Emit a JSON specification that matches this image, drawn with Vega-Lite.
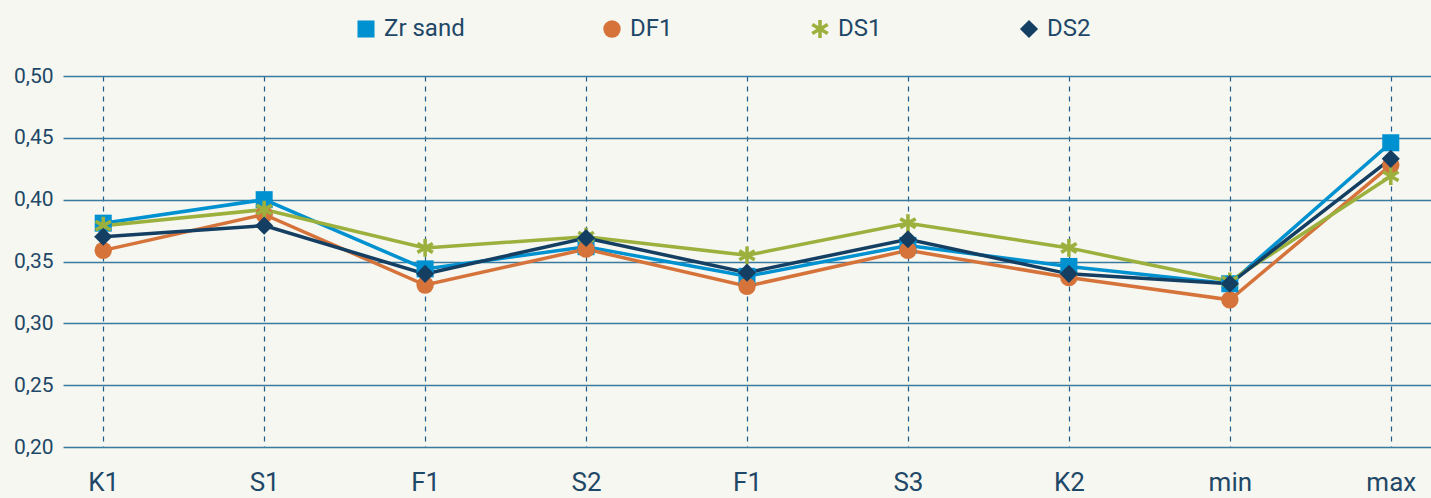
{
  "$schema": "https://vega.github.io/schema/vega-lite/v6.json",
  "width": 1368,
  "height": 371,
  "autosize": "none",
  "padding": {"left": 63, "top": 76, "right": 0, "bottom": 51},
  "background": "#f6f7f0",
  "config": {
    "view": {"stroke": null},
    "font": "Roboto",
    "legend": {
      "orient": "none",
      "legendX": 291,
      "legendY": -59,
      "direction": "horizontal",
      "columnPadding": 135,
      "labelFontSize": 24,
      "labelColor": "#1f4767",
      "labelFont": "Roboto",
      "symbolSize": 260,
      "labelOffset": 6,
      "symbolStrokeWidth": 0
    }
  },
  "data": {
    "values": [
      {"cat": "K1", "series": "Zr sand", "value": 0.381},
      {"cat": "K1", "series": "DF1", "value": 0.359},
      {"cat": "K1", "series": "DS1", "value": 0.379},
      {"cat": "K1", "series": "DS2", "value": 0.370},
      {"cat": "S1", "series": "Zr sand", "value": 0.400},
      {"cat": "S1", "series": "DF1", "value": 0.388},
      {"cat": "S1", "series": "DS1", "value": 0.392},
      {"cat": "S1", "series": "DS2", "value": 0.379},
      {"cat": "F1a", "series": "Zr sand", "value": 0.344},
      {"cat": "F1a", "series": "DF1", "value": 0.331},
      {"cat": "F1a", "series": "DS1", "value": 0.361},
      {"cat": "F1a", "series": "DS2", "value": 0.340},
      {"cat": "S2", "series": "Zr sand", "value": 0.362},
      {"cat": "S2", "series": "DF1", "value": 0.360},
      {"cat": "S2", "series": "DS1", "value": 0.370},
      {"cat": "S2", "series": "DS2", "value": 0.369},
      {"cat": "F1b", "series": "Zr sand", "value": 0.338},
      {"cat": "F1b", "series": "DF1", "value": 0.330},
      {"cat": "F1b", "series": "DS1", "value": 0.355},
      {"cat": "F1b", "series": "DS2", "value": 0.341},
      {"cat": "S3", "series": "Zr sand", "value": 0.363},
      {"cat": "S3", "series": "DF1", "value": 0.359},
      {"cat": "S3", "series": "DS1", "value": 0.381},
      {"cat": "S3", "series": "DS2", "value": 0.368},
      {"cat": "K2", "series": "Zr sand", "value": 0.346},
      {"cat": "K2", "series": "DF1", "value": 0.337},
      {"cat": "K2", "series": "DS1", "value": 0.361},
      {"cat": "K2", "series": "DS2", "value": 0.340},
      {"cat": "min", "series": "Zr sand", "value": 0.332},
      {"cat": "min", "series": "DF1", "value": 0.319},
      {"cat": "min", "series": "DS1", "value": 0.334},
      {"cat": "min", "series": "DS2", "value": 0.332},
      {"cat": "max", "series": "Zr sand", "value": 0.446},
      {"cat": "max", "series": "DF1", "value": 0.428},
      {"cat": "max", "series": "DS1", "value": 0.419},
      {"cat": "max", "series": "DS2", "value": 0.433}
    ]
  },
  "encoding": {
    "x": {
      "field": "cat",
      "type": "nominal",
      "sort": null,
      "scale": {"type": "point", "domain": ["K1", "S1", "F1a", "S2", "F1b", "S3", "K2", "min", "max"], "padding": 0.25},
      "axis": {
        "title": null,
        "labelAngle": 0,
        "labelExpr": "datum.label == 'F1a' || datum.label == 'F1b' ? 'F1' : datum.label",
        "labelFontSize": 26,
        "labelColor": "#1f4767",
        "labelPadding": 22,
        "domain": false,
        "ticks": false,
        "grid": true,
        "gridDash": [5, 5],
        "gridColor": "#1f5c8a",
        "gridWidth": 1.2
      }
    },
    "y": {
      "field": "value",
      "type": "quantitative",
      "scale": {"domain": [0.2, 0.5], "nice": false, "zero": false},
      "axis": {
        "title": null,
        "values": [0.2, 0.25, 0.3, 0.35, 0.4, 0.45, 0.5],
        "labelExpr": "replace(format(datum.value, '.2f'), '.', ',')",
        "labelFontSize": 21,
        "labelColor": "#1f4767",
        "labelPadding": 10,
        "domain": false,
        "ticks": false,
        "grid": true,
        "gridColor": "#3b7aa0",
        "gridWidth": 1.5
      }
    },
    "color": {
      "field": "series",
      "type": "nominal",
      "scale": {"domain": ["Zr sand", "DF1", "DS1", "DS2"], "range": ["#0091d0", "#d5733a", "#9bb03d", "#143f63"]},
      "legend": {"title": null}
    }
  },
  "layer": [
    {"mark": {"type": "line", "strokeWidth": 3.5}},
    {
      "mark": {"type": "point", "filled": true, "opacity": 1},
      "encoding": {
        "shape": {
          "field": "series",
          "type": "nominal",
          "scale": {
            "domain": ["Zr sand", "DF1", "DS1", "DS2"],
            "range": ["square", "circle", "M-0.2,-1L0.2,-1L0.2,-0.346L0.766,-0.673L0.966,-0.327L0.4,0L0.966,0.327L0.766,0.673L0.2,0.346L0.2,1L-0.2,1L-0.2,0.346L-0.766,0.673L-0.966,0.327L-0.4,0L-0.966,-0.327L-0.766,-0.673L-0.2,-0.346Z", "diamond"]
          },
          "legend": {"title": null}
        },
        "size": {
          "field": "series",
          "type": "nominal",
          "scale": {"domain": ["Zr sand", "DF1", "DS1", "DS2"], "range": [290, 330, 240, 500]},
          "legend": null
        }
      }
    }
  ]
}
